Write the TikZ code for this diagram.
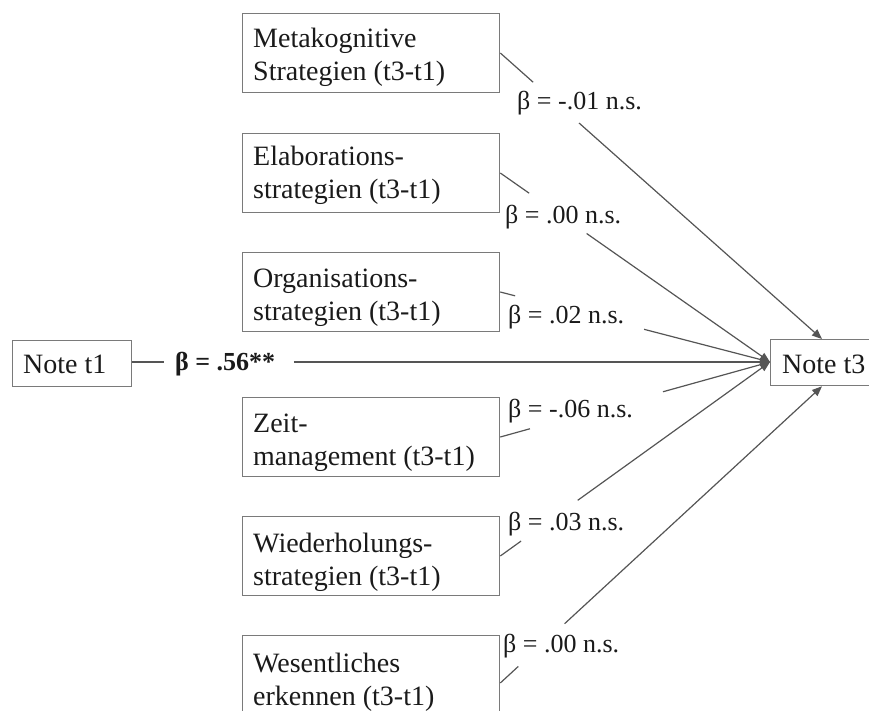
\documentclass[tikz,border=0pt]{standalone}
\usepackage{fontspec}
\setmainfont{Liberation Serif}
\usetikzlibrary{arrows.meta,calc}
\newcommand\twolines[2]{\begin{tabular}[t]{@{}l@{}}#1\\#2\end{tabular}}
\definecolor{boxgray}{HTML}{7A7A7A}
\definecolor{linegray}{HTML}{555555}
\definecolor{txtcol}{HTML}{1A1A1A}
\tikzset{
  varbox/.style={draw=boxgray, line width=1.3pt, minimum width=257pt, minimum height=79pt, inner sep=0pt, anchor=north west},
  notebox/.style={draw=boxgray, line width=1.3pt, minimum height=46pt, inner sep=0pt, anchor=north west},
  btxt/.style={inner sep=0pt, anchor=base west, text=txtcol, font=\fontsize{28}{33}\selectfont},
  lbl/.style={inner sep=0pt, anchor=base west, text=txtcol, font=\fontsize{26}{30}\selectfont},
  conn/.style={draw=linegray, line width=1.2pt},
  arr/.style={conn, -{Triangle[length=10pt,width=8pt]}}
}
\begin{document}
\begin{tikzpicture}[x=1pt,y=-1pt]
\useasboundingbox (0,0) rectangle (869,711);
\clip (0,0) rectangle (869,711);

% boxes
\node[varbox] (b1) at (242,13) {};
\node[varbox] (b2) at (242,133) {};
\node[varbox] (b3) at (242,252) {};
\node[varbox] (b4) at (242,397) {};
\node[varbox] (b5) at (242,516) {};
\node[varbox] (b6) at (242,635) {};
\node[notebox, minimum width=119pt] (n1) at (12,340) {};
\node[notebox, minimum width=130pt] (n3) at (770,339) {};

% texts
\node[btxt] (tx1) at (253,47.5) {\twolines{Metakognitive}{Strategien (t3-t1)}};
\node[btxt] (tx2) at (253,166) {\twolines{Elaborations-}{strategien (t3-t1)}};
\node[btxt] (tx3) at (253,287) {\twolines{Organisations-}{strategien (t3-t1)}};
\node[btxt] (tx4) at (253,432) {\twolines{Zeit-}{management (t3-t1)}};
\node[btxt] (tx5) at (253,552) {\twolines{Wiederholungs-}{strategien (t3-t1)}};
\node[btxt] (tx6) at (253,672) {\twolines{Wesentliches}{erkennen (t3-t1)}};
\node[btxt] (tn1) at (23,373) {Note t1};
\node[btxt] (tn3) at (782,373) {Note t3};

% labels
\node[lbl] (l0) at (175,370) {\textbf{β = .56**}};
\node[lbl] (l1) at (517,110) {β = -.01 n.s.};
\node[lbl] (l2) at (505,223) {β = .00 n.s.};
\node[lbl] (l3) at (508,323) {β = .02 n.s.};
\node[lbl] (l4) at (508,417) {β = -.06 n.s.};
\node[lbl] (l5) at (508,530) {β = .03 n.s.};
\node[lbl] (l6) at (503,652) {β = .00 n.s.};

% connector end points
\coordinate (s0) at ($(n1.north east)+(0,22)$);
\coordinate (s1) at ($(b1.north east)+(0,40)$);
\coordinate (s2) at ($(b2.north east)+(0,40)$);
\coordinate (s3) at ($(b3.north east)+(0,40)$);
\coordinate (s4) at ($(b4.north east)+(0,40)$);
\coordinate (s5) at ($(b5.north east)+(0,40)$);
\coordinate (s6) at ($(b6.north east)+(0,48)$);
\coordinate (tw) at ($(n3.north west)+(0,23)$);
\coordinate (tn) at ($(n3.north west)+(52,0)$);
\coordinate (ts) at ($(n3.south west)+(52,0)$);

% connectors
\draw[conn] (s0) -- ($(s0)!0.050!(tw)$);
\draw[arr] ($(s0)!0.2535!(tw)$) -- (tw);
\draw[conn] (s1) -- ($(s1)!0.102!(tn)$);
\draw[arr] ($(s1)!0.245!(tn)$) -- (tn);
\draw[conn] (s2) -- ($(s2)!0.107!(tw)$);
\draw[arr] ($(s2)!0.32!(tw)$) -- (tw);
\draw[conn] (s3) -- ($(s3)!0.055!(tw)$);
\draw[arr] ($(s3)!0.533!(tw)$) -- (tw);
\draw[conn] (s4) -- ($(s4)!0.110!(tw)$);
\draw[arr] ($(s4)!0.603!(tw)$) -- (tw);
\draw[conn] (s5) -- ($(s5)!0.077!(tw)$);
\draw[arr] ($(s5)!0.287!(tw)$) -- (tw);
\draw[conn] (s6) -- ($(s6)!0.056!(ts)$);
\draw[arr] ($(s6)!0.20!(ts)$) -- (ts);
\end{tikzpicture}
\end{document}
